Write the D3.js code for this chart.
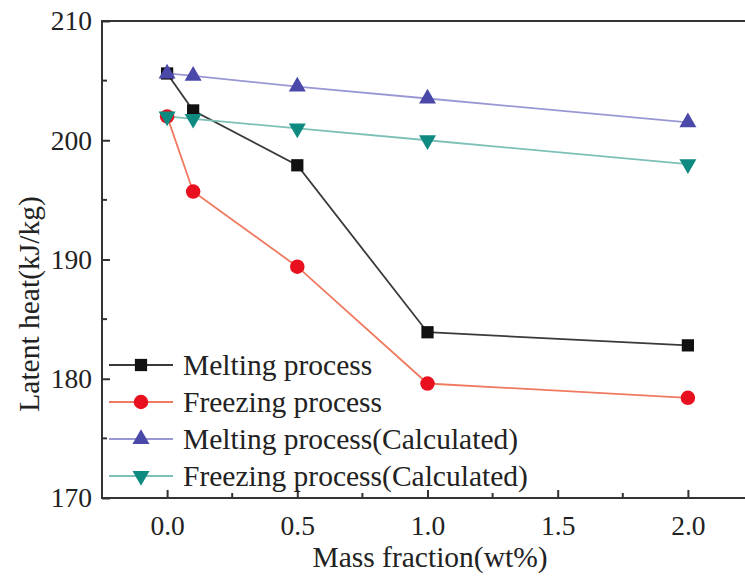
<!DOCTYPE html>
<html>
<head>
<meta charset="utf-8">
<script src="https://cdn.jsdelivr.net/npm/d3@7"></script>
<style>
  html, body { margin: 0; padding: 0; background: #fff; }
  svg { display: block; }
  text { font-family: "Liberation Serif", "Times New Roman", serif; fill: #222; }
</style>
</head>
<body>
<svg id="chart" width="745" height="576"></svg>
<script>
// Mass fraction (wt%) and latent heat (kJ/kg) for each process
const massFraction = [0.0, 0.1, 0.5, 1.0, 2.0];
const meltingMeasured = [205.6, 202.5, 197.9, 183.9, 182.8];
const freezingMeasured = [202.0, 195.7, 189.4, 179.6, 178.4];
const meltingCalculated = [205.6, 205.4, 204.5, 203.5, 201.5];
const freezingCalculated = [202.0, 201.8, 201.0, 200.0, 198.0];

const seriesNames = [
  "Melting process",
  "Freezing process",
  "Melting process(Calculated)",
  "Freezing process(Calculated)"
];
const xTicks = [0.0, 0.5, 1.0, 1.5, 2.0];
const yTicks = [170, 180, 190, 200, 210];

const svg = d3.select("#chart");
const margin = { left: 102, top: 21, right: 753, bottom: 498 };

const x = d3.scaleLinear().domain([-0.25, 2.25]).range([margin.left, margin.right]);
const y = d3.scaleLinear().domain([170, 210]).range([margin.bottom, margin.top]);

const styles = [
  { values: meltingMeasured, line: "#3a3a3a", fill: "#111111", shape: "square" },
  { values: freezingMeasured, line: "#f07a60", fill: "#e8101e", shape: "circle" },
  { values: meltingCalculated, line: "#9a98d4", fill: "#4a48a8", shape: "up" },
  { values: freezingCalculated, line: "#7dc0b8", fill: "#0f8a80", shape: "down" }
];

function symbolFor(shape) {
  const s = {
    square: d3.symbol().type(d3.symbolSquare).size(150),
    circle: d3.symbol().type(d3.symbolCircle).size(165),
    up: d3.symbol().type(d3.symbolTriangle).size(125),
    down: d3.symbol().type(d3.symbolTriangle).size(125)
  };
  return s[shape];
}

// Frame
svg.append("rect")
  .attr("x", margin.left).attr("y", margin.top)
  .attr("width", margin.right - margin.left)
  .attr("height", margin.bottom - margin.top)
  .attr("fill", "none").attr("stroke", "#333").attr("stroke-width", 2);

// Bottom axis with inward ticks
const xAxis = d3.axisBottom(x).tickValues(xTicks).tickSize(-8).tickFormat(d3.format(".1f"));
const gx = svg.append("g").attr("transform", `translate(0,${margin.bottom})`).call(xAxis);
gx.select(".domain").remove();
gx.selectAll(".tick line").attr("stroke", "#333").attr("stroke-width", 2);
gx.selectAll(".tick text")
  .attr("y", 17).attr("dy", "0.71em")
  .style("font-size", "27.5px");
const xMinor = d3.range(-0.25, 2.26, 0.25).filter(v => Math.abs(v * 2 - Math.round(v * 2)) > 1e-6);
svg.append("g").selectAll("line").data(xMinor).join("line")
  .attr("x1", d => x(d)).attr("x2", d => x(d))
  .attr("y1", margin.bottom).attr("y2", margin.bottom - 5)
  .attr("stroke", "#333").attr("stroke-width", 2);

// Left axis with inward ticks
const yAxis = d3.axisLeft(y).tickValues(yTicks).tickSize(-8).tickFormat(d3.format("d"));
const gy = svg.append("g").attr("transform", `translate(${margin.left},0)`).call(yAxis);
gy.select(".domain").remove();
gy.selectAll(".tick line").attr("stroke", "#333").attr("stroke-width", 2);
gy.selectAll(".tick text")
  .attr("x", -10)
  .style("font-size", "27.5px");
const yMinor = [175, 185, 195, 205];
svg.append("g").selectAll("line").data(yMinor).join("line")
  .attr("x1", margin.left).attr("x2", margin.left + 5)
  .attr("y1", d => y(d)).attr("y2", d => y(d))
  .attr("stroke", "#333").attr("stroke-width", 2);

// Axis titles
svg.append("text")
  .attr("x", 430).attr("y", 567)
  .attr("text-anchor", "middle")
  .style("font-size", "29.5px")
  .text("Mass fraction(wt%)");
svg.append("text")
  .attr("transform", "translate(39,304) rotate(-90)")
  .attr("text-anchor", "middle")
  .style("font-size", "29.5px")
  .text("Latent heat(kJ/kg)");

// Series lines and markers
const line = d3.line().x(d => x(d[0])).y(d => y(d[1]));
styles.forEach(st => {
  const pts = massFraction.map((m, i) => [m, st.values[i]]);
  svg.append("path")
    .datum(pts)
    .attr("d", line)
    .attr("fill", "none")
    .attr("stroke", st.line)
    .attr("stroke-width", 1.8);
});
styles.forEach(st => {
  const pts = massFraction.map((m, i) => [m, st.values[i]]);
  svg.append("g").selectAll("path").data(pts).join("path")
    .attr("d", symbolFor(st.shape))
    .attr("transform", d => `translate(${x(d[0])},${y(d[1])})${st.shape === "down" ? " rotate(180)" : ""}`)
    .attr("fill", st.fill);
});

// Legend
const legendRows = [365, 402, 439, 476];
const legend = svg.append("g");
styles.forEach((st, i) => {
  const ly = legendRows[i];
  legend.append("line")
    .attr("x1", 109).attr("x2", 173)
    .attr("y1", ly).attr("y2", ly)
    .attr("stroke", st.line).attr("stroke-width", 1.8);
  legend.append("path")
    .attr("d", symbolFor(st.shape))
    .attr("transform", `translate(141,${ly})${st.shape === "down" ? " rotate(180)" : ""}`)
    .attr("fill", st.fill);
  legend.append("text")
    .attr("x", 183).attr("y", ly).attr("dy", "0.33em")
    .style("font-size", "29.5px")
    .text(seriesNames[i]);
});
</script>
</body>
</html>
